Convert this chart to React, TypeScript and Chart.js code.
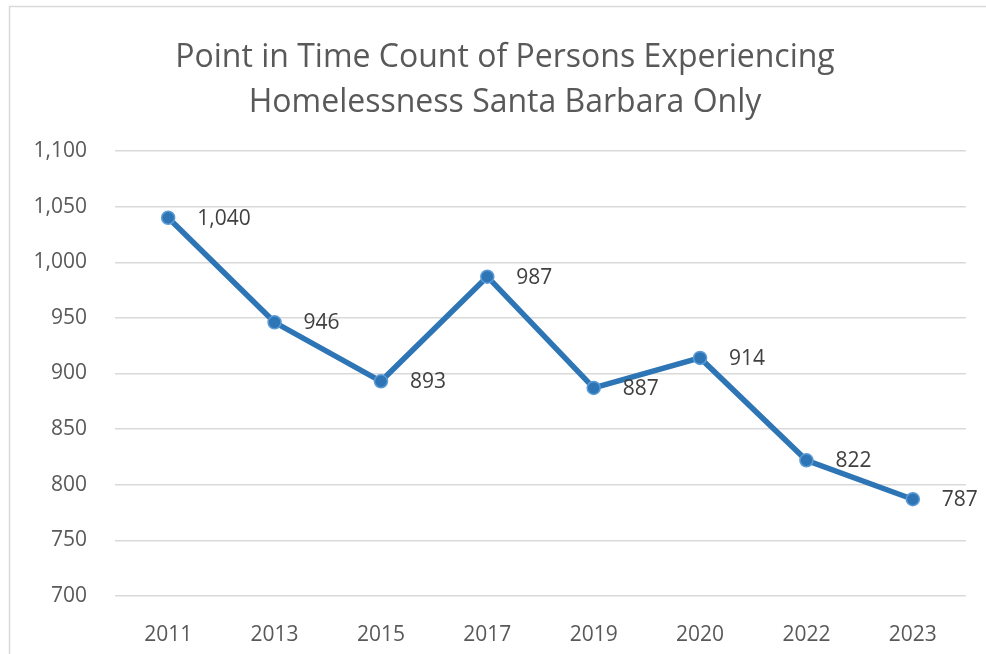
import React, { useEffect, useRef } from "react";
import { Chart, registerables } from "chart.js";

Chart.register(...registerables);

const years = ["2011", "2013", "2015", "2017", "2019", "2020", "2022", "2023"];
const counts = [1040, 946, 893, 987, 887, 914, 822, 787];
const titleLines = ["Point in Time Count of Persons Experiencing", "Homelessness Santa Barbara Only"];
const yMin = 700;
const yMax = 1100;
const yStep = 50;

const FONT = "'Open Sans', 'Noto Sans', sans-serif";

export default function App() {
  const ref = useRef<HTMLCanvasElement | null>(null);
  useEffect(() => {
    if (!ref.current) return;
    const frame = {
      id: "frame",
      beforeDraw(chart: any) {
        const ctx = chart.ctx;
        ctx.save();
        ctx.fillStyle = "#ffffff";
        ctx.fillRect(0, 0, chart.width, chart.height);
        ctx.strokeStyle = "#d9d9d9";
        ctx.lineWidth = 1.5;
        ctx.strokeRect(9.5, 6.5, 1200, 900);
        ctx.fillStyle = "#595959";
        ctx.font = `32px ${FONT}`;
        ctx.textAlign = "center";
        ctx.textBaseline = "middle";
        ctx.fillText(titleLines[0], 505, 58);
        ctx.fillText(titleLines[1], 505, 103);
        ctx.restore();
      },
    };
    const labels = {
      id: "dlabels",
      afterDatasetsDraw(chart: any) {
        const ctx = chart.ctx;
        const meta = chart.getDatasetMeta(0);
        ctx.save();
        ctx.fillStyle = "#404040";
        ctx.font = `21px ${FONT}`;
        ctx.textAlign = "left";
        ctx.textBaseline = "middle";
        meta.data.forEach((pt: any, i: number) => {
          ctx.fillText(counts[i].toLocaleString("en-US"), pt.x + 29, pt.y + 1);
        });
        ctx.restore();
      },
    };
    const chart = new Chart(ref.current, {
      type: "line",
      data: {
        labels: years,
        datasets: [
          {
            data: counts,
            borderColor: "#2E75B6",
            borderWidth: 5.5,
            pointRadius: 6.5,
            pointBackgroundColor: "#2E75B6",
            pointBorderColor: "#5B9BD5",
            pointBorderWidth: 1.5,
            tension: 0,
          },
        ],
      },
      options: {
        responsive: false,
        animation: false,
        layout: { padding: { top: 151, right: 20, left: 0, bottom: 0 } },
        plugins: {
          legend: { display: false },
          title: { display: false },
          tooltip: { enabled: false },
        },
        scales: {
          x: {
            offset: true,
            grid: { display: false },
            border: { display: false },
            ticks: { color: "#595959", font: { family: FONT, size: 21 }, padding: 18 },
            afterFit(scale: any) {
              scale.height = 58;
            },
          },
          y: {
            min: yMin,
            max: yMax,
            grid: { color: "#d9d9d9", lineWidth: 1.5, drawTicks: false },
            border: { display: false },
            ticks: {
              stepSize: yStep,
              padding: 28,
              color: "#595959",
              font: { family: FONT, size: 21 },
              callback: (v: any) => Number(v).toLocaleString("en-US"),
            },
            afterFit(scale: any) {
              scale.width = 115;
            },
          },
        },
      },
      plugins: [frame, labels],
    });
    return () => chart.destroy();
  }, []);
  return (
    <canvas
      ref={ref}
      width={986}
      height={654}
      style={{ position: "fixed", left: 0, top: 0, width: 986, height: 654 }}
    />
  );
}
